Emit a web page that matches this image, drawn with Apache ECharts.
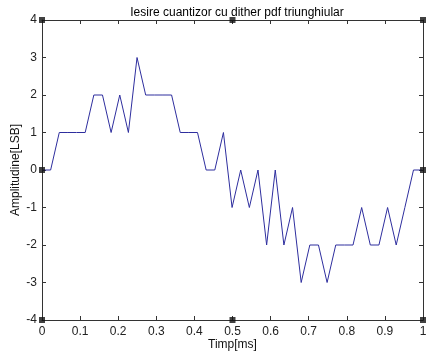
<!DOCTYPE html>
<html><head><meta charset="utf-8">
<script src="https://cdn.jsdelivr.net/npm/echarts@6/dist/echarts.min.js"></script>
<style>html,body{margin:0;padding:0;background:#fff}#c{width:442px;height:358px}</style>
</head><body><div id="c"></div>
<script>
const sampleRateKHz = 44.1;
const values = [0,0,1,1,1,1,2,2,1,2,1,3,2,2,2,2,1,1,1,0,0,1,-1,0,-1,0,-2,0,-2,-1,-3,-2,-2,-3,-2,-2,-2,-1,-2,-2,-1,-2,-1,0,0];
const xTicks = [0,0.1,0.2,0.3,0.4,0.5,0.6,0.7,0.8,0.9,1];
const yTicks = [-4,-3,-2,-1,0,1,2,3,4];
const handles = [[0,4],[0.5,4],[1,4],[1,0],[0,0],[0,-4],[0.5,-4],[1,-4]];
const titleText = 'Iesire cuantizor cu dither pdf triunghiular';
const xName = 'Timp[ms]';
const yName = 'Amplitudine[LSB]';

const data = values.map((v,i)=>[i/sampleRateKHz, v]);
const font = 'Liberation Sans, Arial, sans-serif';
const axisCommon = {
  min: 0, max: 1, interval: 0.1,
  axisLine:{show:true,onZero:false,lineStyle:{color:'#333',width:1}},
  axisTick:{show:true,inside:true,length:4,lineStyle:{color:'#333'}},
  splitLine:{show:false}
};
const chart = echarts.init(document.getElementById('c'),null,{renderer:'canvas'});
chart.setOption({
  animation:false,
  title:{text:titleText,left:232,top:2,textAlign:'center',textStyle:{fontFamily:font,fontSize:12,fontWeight:'normal',color:'#000'}},
  grid:{left:42,right:19,top:20,bottom:38,containLabel:false,outerBoundsMode:'none'},
  xAxis:[
    Object.assign({},axisCommon,{type:'value',position:'bottom',name:xName,nameLocation:'middle',nameGap:19,nameMoveOverlap:false,
      nameTextStyle:{fontFamily:font,fontSize:12,color:'#111'},
      axisLabel:{show:true,fontFamily:font,fontSize:12,color:'#222',margin:6,formatter:v=>xTicks.includes(Math.round(v*10)/10)?String(Math.round(v*10)/10):''}}),
    Object.assign({},axisCommon,{type:'value',position:'top',axisLabel:{show:false}})
  ],
  yAxis:[
    Object.assign({},axisCommon,{type:'value',min:-4,max:4,interval:1,position:'left',name:yName,nameLocation:'middle',nameGap:20,nameMoveOverlap:false,
      nameTextStyle:{fontFamily:font,fontSize:12,color:'#111'},
      axisLabel:{show:true,fontFamily:font,fontSize:12,color:'#222',margin:5,formatter:v=>yTicks.includes(v)?String(v):''}}),
    Object.assign({},axisCommon,{type:'value',min:-4,max:4,interval:1,position:'right',axisLabel:{show:false}})
  ],
  series:[
    {type:'line',data:data,symbol:'none',lineStyle:{color:'#2e2e9e',width:1},z:3},
    {type:'scatter',data:handles,symbol:'rect',symbolSize:6,itemStyle:{color:'#111'},z:4,silent:true}
  ]
});
</script></body></html>
